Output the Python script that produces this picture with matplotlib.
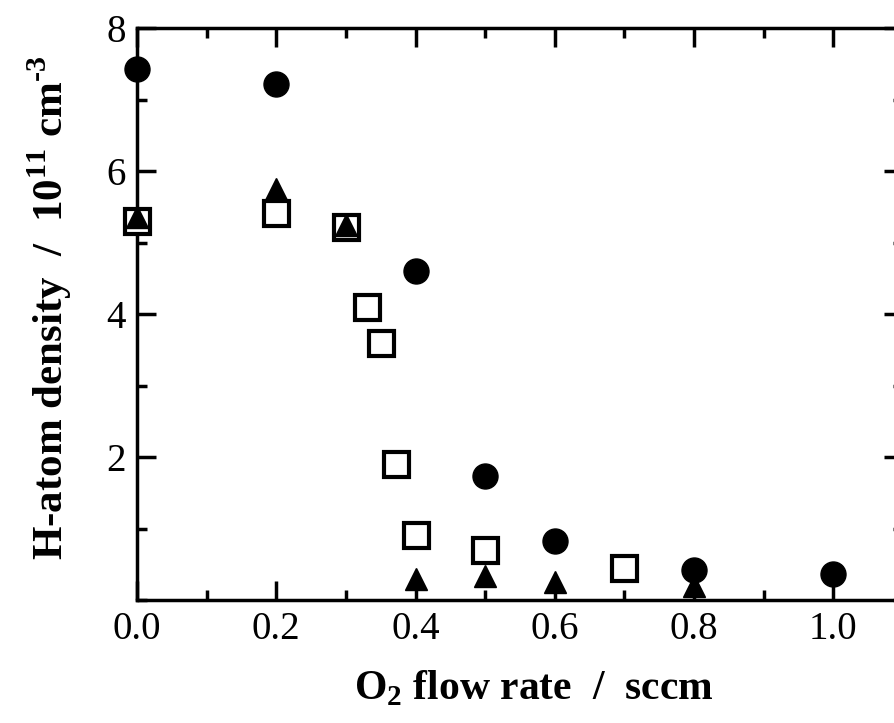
#!/usr/bin/env python
# coding: utf-8

import matplotlib
matplotlib.use('Agg')
import matplotlib.pyplot as plt
from matplotlib.ticker import MultipleLocator

# filled circles
circle_x = [0.0, 0.2, 0.4, 0.5, 0.6, 0.8, 1.0]
circle_y = [7.42, 7.22, 4.6, 1.73, 0.82, 0.42, 0.36]

# open squares
square_x = [0.0, 0.2, 0.3, 0.33, 0.35, 0.372, 0.4, 0.5, 0.7]
square_y = [5.3, 5.41, 5.22, 4.1, 3.59, 1.9, 0.91, 0.7, 0.45]

# filled triangles
tri_x = [0.0, 0.2, 0.3, 0.4, 0.5, 0.6, 0.8]
tri_y = [5.35, 5.75, 5.25, 0.29, 0.33, 0.25, 0.2]

x_ticks = [0.0, 0.2, 0.4, 0.6, 0.8, 1.0]
y_ticks = [2, 4, 6, 8]

plt.rcParams['font.family'] = 'Liberation Serif'
plt.rcParams['mathtext.fontset'] = 'custom'
plt.rcParams['mathtext.rm'] = 'Liberation Serif'
plt.rcParams['mathtext.bf'] = 'Liberation Serif:bold'

fig = plt.figure(figsize=(8.94, 7.23), dpi=100)
ax = fig.add_axes([137 / 894, 123 / 723, 766 / 894, 572 / 723])

ax.plot(square_x, square_y, 's', ms=18, mfc='white', mec='black', mew=3,
        clip_on=False, zorder=3)
ax.plot(tri_x, tri_y, '^', ms=16, color='black', clip_on=False, zorder=4)
ax.plot(circle_x, circle_y, 'o', ms=18, color='black', clip_on=False, zorder=5)

ax.set_xlim(0, 1.1)
ax.set_ylim(0, 8)
ax.set_xticks(x_ticks)
ax.set_xticklabels(['%.1f' % v for v in x_ticks])
ax.set_yticks(y_ticks)
ax.set_yticklabels([str(v) for v in y_ticks])
ax.xaxis.set_minor_locator(MultipleLocator(0.1))
ax.yaxis.set_minor_locator(MultipleLocator(1))

ax.tick_params(which='both', direction='in', top=True, right=True,
               width=2.5, labelsize=28, pad=8)
ax.tick_params(which='major', length=14)
ax.tick_params(which='minor', length=7)
for sp in ax.spines.values():
    sp.set_linewidth(2.5)

fig.text(534 / 894, 1 - 688 / 723, r'O$_\mathbf{2}$ flow rate  /  sccm',
         fontsize=30, fontweight='bold', ha='center', va='center')
# U+2010 hyphen so the exponent shows a short dash like the original
fig.text(50 / 894, 1 - 308 / 723,
         'H-atom density  /  10$^\\mathbf{11}$ cm$^\\mathbf{\u20103}$',
         fontsize=31, fontweight='bold', ha='center', va='center',
         rotation=90)

fig.savefig('out.png', dpi=100)
